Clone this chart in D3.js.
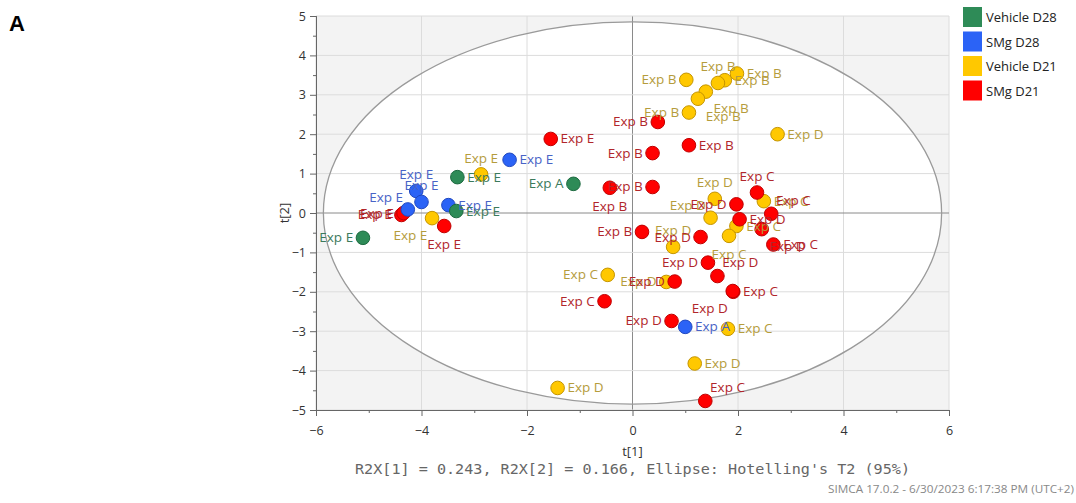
<!DOCTYPE html>
<html>
<head>
<meta charset="utf-8">
<script src="https://cdn.jsdelivr.net/npm/d3@7"></script>
<style>
    body { margin: 0; background: #fff; }
    svg { display: block; font-family: "Open Sans", "Noto Sans", sans-serif; }
</style>
</head>
<body>
<svg id="chart" width="1076" height="503"></svg>
<script>
'use strict';

// score points: t[1], t[2], observation label, label side
var vehicleD28 = [
    [-1.12, 0.74, "Exp A", "l"],
    [-3.32, 0.91, "Exp E", "r"],
    [-3.34, 0.05, "Exp E", "r"],
    [-5.11, -0.63, "Exp E", "l"]
];
var smgD28 = [
    [-2.33, 1.35, "Exp E", "r"],
    [-4.10, 0.56, "Exp E", "t"],
    [-4.00, 0.28, "Exp E", "t"],
    [-4.26, 0.09, "Exp E", "tl"],
    [-3.49, 0.20, "Exp E", "r"],
    [1.00, -2.89, "Exp A", "r"]
];
var vehicleD21 = [
    [-2.87, 0.98, "Exp E", "t"],
    [-3.80, -0.13, "Exp E", "bl"],
    [-1.42, -4.44, "Exp D", "r"],
    [-0.47, -1.57, "Exp C", "l"],
    [0.64, -1.75, "Exp D", "l"],
    [1.18, -3.82, "Exp D", "r"],
    [1.81, -2.94, "Exp C", "r"],
    [2.75, 2.00, "Exp D", "r"],
    [1.02, 3.38, "Exp B", "l"],
    [1.98, 3.54, "Exp B", "r"],
    [1.75, 3.37, "Exp B", "r"],
    [1.62, 3.30, "Exp B", "t"],
    [1.39, 3.08, "Exp B", "br"],
    [1.24, 2.90, "Exp B", "br"],
    [1.07, 2.55, "Exp B", "l"],
    [1.56, 0.36, "Exp D", "t"],
    [2.49, 0.30, "Exp C", "r"],
    [1.48, -0.12, "Exp D", "tl"],
    [1.97, -0.33, "Exp C", "r"],
    [1.83, -0.58, "Exp C", "b"],
    [0.77, -0.86, "Exp D", "t"]
];
var smgD21 = [
    [-4.38, -0.05, "Exp E", "l"],
    [-4.34, 0.00, "Exp E", "l"],
    [-3.57, -0.33, "Exp E", "b"],
    [-1.55, 1.88, "Exp E", "r"],
    [-0.43, 0.64, "Exp B", "b"],
    [0.38, 0.66, "Exp B", "l"],
    [0.38, 1.52, "Exp B", "l"],
    [0.48, 2.31, "Exp B", "l"],
    [1.07, 1.72, "Exp B", "r"],
    [0.18, -0.48, "Exp B", "l"],
    [1.29, -0.61, "Exp D", "l"],
    [2.36, 0.52, "Exp C", "t"],
    [1.97, 0.22, "Exp D", "l"],
    [2.63, -0.02, "Exp C", "tr"],
    [2.03, -0.16, "Exp D", "r"],
    [2.45, -0.41, "Exp D", "br"],
    [2.67, -0.80, "Exp C", "r"],
    [1.43, -1.26, "Exp D", "l"],
    [1.61, -1.60, "Exp D", "tr"],
    [0.80, -1.74, "Exp D", "l"],
    [1.91, -2.00, "Exp C", "r"],
    [1.90, -1.98, "Exp D", "bl"],
    [0.74, -2.74, "Exp D", "l"],
    [-0.53, -2.24, "Exp C", "l"],
    [1.38, -4.77, "Exp C", "tr"]
];

var seriesNames = ["Vehicle D28", "SMg D28", "Vehicle D21", "SMg D21"];
var xTicks = [-6, -4, -2, 0, 2, 4, 6];
var yTicks = [-5, -4, -3, -2, -1, 0, 1, 2, 3, 4, 5];
var ellipseAxes = [5.86, 4.85];   // Hotelling's T2 (95%) semi-axes
var footerText = "R2X[1] = 0.243, R2X[2] = 0.166, Ellipse: Hotelling's T2 (95%)";
var stampText = "SIMCA 17.0.2 - 6/30/2023 6:17:38 PM (UTC+2)";

var colors = {
    "Vehicle D28": {fill: "#2e8b57", stroke: "#1d6a40", text: "#3b7a5b"},
    "SMg D28": {fill: "#2b63f6", stroke: "#2048c0", text: "#4863c6"},
    "Vehicle D21": {fill: "#ffc800", stroke: "#c49400", text: "#b59c3c"},
    "SMg D21": {fill: "#ff0000", stroke: "#c00000", text: "#b1262b"}
};

var series = [
    {name: "Vehicle D21", data: vehicleD21},
    {name: "SMg D21", data: smgD21},
    {name: "SMg D28", data: smgD28},
    {name: "Vehicle D28", data: vehicleD28}
];

var dotRadius = 6.8;
var svg = d3.select("#chart");

var x = d3.scaleLinear().domain([-6, 6]).range([316, 949]);
var y = d3.scaleLinear().domain([-5, 5]).range([410, 16]);

var plot = svg.append("g");

// grey plot background, white inside the ellipse
plot.append("rect")
    .attr("x", x(-6)).attr("y", y(5))
    .attr("width", x(6) - x(-6)).attr("height", y(-5) - y(5))
    .attr("fill", "#f3f3f3");

plot.append("ellipse")
    .attr("cx", x(0)).attr("cy", y(0))
    .attr("rx", x(ellipseAxes[0]) - x(0))
    .attr("ry", y(0) - y(ellipseAxes[1]))
    .attr("fill", "#fff");

// grid
plot.selectAll(".vgrid")
    .data(xTicks)
    .enter().append("line")
    .attr("x1", function(d) { return x(d); })
    .attr("x2", function(d) { return x(d); })
    .attr("y1", y(5)).attr("y2", y(-5))
    .attr("stroke", function(d) { return d === 0 ? "#8a8a8a" : "#dcdcdc"; })
    .attr("stroke-width", 1);

plot.selectAll(".hgrid")
    .data(yTicks)
    .enter().append("line")
    .attr("x1", x(-6)).attr("x2", x(6))
    .attr("y1", function(d) { return y(d); })
    .attr("y2", function(d) { return y(d); })
    .attr("stroke", function(d) { return d === 0 ? "#8a8a8a" : "#dcdcdc"; })
    .attr("stroke-width", 1);

plot.append("ellipse")
    .attr("cx", x(0)).attr("cy", y(0))
    .attr("rx", x(ellipseAxes[0]) - x(0))
    .attr("ry", y(0) - y(ellipseAxes[1]))
    .attr("fill", "none")
    .attr("stroke", "#9a9a9a")
    .attr("stroke-width", 1.3);

// axes
var xAxis = d3.axisBottom(x).tickValues(xTicks).tickSize(6).tickPadding(10)
    .tickFormat(d3.format("d"));
var xMinor = d3.axisBottom(x).tickValues(d3.range(-5, 6, 2)).tickSize(3).tickFormat("");
var yAxis = d3.axisLeft(y).tickValues(yTicks).tickSize(6).tickPadding(4)
    .tickFormat(d3.format("d"));
var yMinor = d3.axisLeft(y).tickValues(d3.range(-4.5, 5, 1)).tickSize(3).tickFormat("");

function styleAxis(g) {
    g.select(".domain").attr("stroke", "#666");
    g.selectAll(".tick line").attr("stroke", "#666");
    g.selectAll(".tick text")
        .attr("fill", "#333")
        .style("font-size", "12.5px")
        .style("font-family", "'Open Sans', sans-serif");
}

svg.append("g").attr("transform", "translate(0," + y(-5) + ")").call(xMinor).call(styleAxis);
svg.append("g").attr("transform", "translate(0," + y(-5) + ")").call(xAxis).call(styleAxis);
svg.append("g").attr("transform", "translate(" + x(-6) + ",0)").call(yMinor).call(styleAxis);
svg.append("g").attr("transform", "translate(" + x(-6) + ",0)").call(yAxis).call(styleAxis);

svg.append("text")
    .attr("x", x(0)).attr("y", 456)
    .attr("text-anchor", "middle")
    .attr("fill", "#333")
    .style("font-size", "13px")
    .text("t[1]");

svg.append("text")
    .attr("transform", "translate(289," + y(0) + ") rotate(-90)")
    .attr("text-anchor", "middle")
    .attr("fill", "#333")
    .style("font-size", "13px")
    .text("t[2]");

// points
var r = dotRadius;
var labelOffsets = {
    r: [r + 3, 4.5, "start"],
    l: [-(r + 3), 4.5, "end"],
    t: [0, -(r + 5), "middle"],
    b: [0, r + 16, "middle"],
    tr: [r - 2, -(r + 2), "start"],
    tl: [-(r - 2), -(r + 1), "end"],
    br: [r + 1, r + 15, "start"],
    bl: [-(r - 2), r + 15, "end"]
};

var points = [];
series.forEach(function(s) {
    s.data.forEach(function(p) {
        points.push({t1: p[0], t2: p[1], label: p[2], side: p[3], group: s.name});
    });
});

var blips = svg.append("g");
blips.selectAll(".blipCircle")
    .data(points)
    .enter().append("circle")
    .attr("class", "blipCircle")
    .attr("cx", function(d) { return x(d.t1); })
    .attr("cy", function(d) { return y(d.t2); })
    .attr("r", r)
    .attr("fill", function(d) { return colors[d.group].fill; })
    .attr("stroke", function(d) { return colors[d.group].stroke; })
    .attr("stroke-width", 1);

blips.selectAll(".blipText")
    .data(points)
    .enter().append("text")
    .attr("class", "blipText")
    .attr("x", function(d) { return x(d.t1) + labelOffsets[d.side][0]; })
    .attr("y", function(d) { return y(d.t2) + labelOffsets[d.side][1]; })
    .attr("text-anchor", function(d) { return labelOffsets[d.side][2]; })
    .attr("fill", function(d) { return colors[d.group].text; })
    .style("font-size", "13.5px")
    .text(function(d) { return d.label; });

// legend
var legend = svg.append("g").attr("transform", "translate(963,7)");
var legendItem = legend.selectAll(".legendItem")
    .data(seriesNames)
    .enter().append("g")
    .attr("transform", function(d, i) { return "translate(0," + (i * 24.5) + ")"; });

legendItem.append("rect")
    .attr("width", 19).attr("height", 20)
    .attr("fill", function(d) { return colors[d].fill; });

legendItem.append("text")
    .attr("x", 23).attr("y", 15)
    .attr("fill", "#222")
    .style("font-size", "13px")
    .text(function(d) { return d; });

// footer
svg.append("text")
    .attr("x", x(0)).attr("y", 474)
    .attr("text-anchor", "middle")
    .attr("fill", "#666")
    .attr("textLength", 555)
    .attr("lengthAdjust", "spacingAndGlyphs")
    .style("font-family", "'DejaVu Sans Mono', monospace")
    .style("font-size", "14px")
    .text(footerText);

svg.append("text")
    .attr("x", 1074).attr("y", 493)
    .attr("text-anchor", "end")
    .attr("fill", "#888")
    .attr("textLength", 246)
    .attr("lengthAdjust", "spacingAndGlyphs")
    .style("font-size", "11px")
    .text(stampText);

svg.append("text")
    .attr("x", 9).attr("y", 31)
    .attr("fill", "#000")
    .style("font-family", "'Liberation Sans', Arial, sans-serif")
    .style("font-weight", "bold")
    .style("font-size", "22px")
    .text("A");
</script>
</body>
</html>
